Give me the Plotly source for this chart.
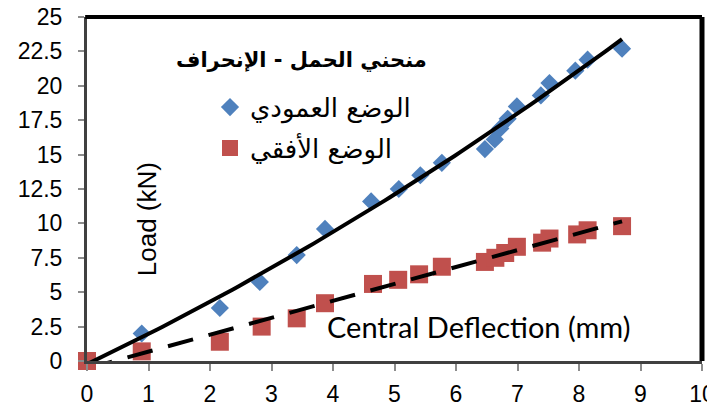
import numpy as np
import plotly.graph_objects as go

# Vertical position (blue diamonds)
vert_x = [0, 0.89, 2.16, 2.81, 3.41, 3.87, 4.62, 5.07, 5.42, 5.77, 6.47, 6.63, 6.72, 6.84, 6.99, 7.38, 7.52, 7.94, 8.14, 8.7]
vert_y = [0, 2.0, 3.85, 5.75, 7.7, 9.6, 11.6, 12.5, 13.5, 14.4, 15.4, 16.1, 16.9, 17.6, 18.5, 19.3, 20.2, 21.1, 21.9, 22.7]

# Horizontal position (red squares)
hor_x = [0, 0.89, 2.16, 2.84, 3.41, 3.87, 4.65, 5.06, 5.4, 5.77, 6.47, 6.64, 6.8, 6.99, 7.4, 7.52, 7.97, 8.14, 8.7]
hor_y = [0, 0.7, 1.4, 2.5, 3.1, 4.2, 5.6, 5.9, 6.3, 6.85, 7.2, 7.5, 7.85, 8.3, 8.6, 8.9, 9.2, 9.5, 9.8]

name_vert = "الوضع العمودي"
name_hor = "الوضع الأفقي"
title_text = "منحني الحمل - الإنحراف"
x_title = "Central Deflection (mm)"
y_title = "Load (kN)"
x_ticks = list(range(0, 11))
y_ticks = [0, 2.5, 5, 7.5, 10, 12.5, 15, 17.5, 20, 22.5, 25]

# Excel-style trendlines fitted to the data
pv = np.polyfit(vert_x, vert_y, 2)
tx_v = np.linspace(min(vert_x), max(vert_x), 100)
ty_v = np.polyval(pv, tx_v)
ph = np.polyfit(hor_x, hor_y, 1)
tx_h = np.linspace(min(hor_x), max(hor_x), 100)
ty_h = np.polyval(ph, tx_h)

fig = go.Figure()
fig.add_trace(go.Scatter(x=vert_x, y=vert_y, mode="markers", name=name_vert,
                         marker=dict(symbol="diamond", size=14, color="#4F81BD"),
                         legend="legend", cliponaxis=False))
fig.add_trace(go.Scatter(x=hor_x, y=hor_y, mode="markers", name=name_hor,
                         marker=dict(symbol="square", size=18, color="#C0504D"),
                         legend="legend2", cliponaxis=False))
fig.add_trace(go.Scatter(x=tx_v, y=ty_v, mode="lines", showlegend=False,
                         line=dict(color="black", width=4)))
fig.add_trace(go.Scatter(x=tx_h, y=ty_h, mode="lines", showlegend=False,
                         line=dict(color="black", width=4, dash="26px,16px")))

axis_font = dict(family="Liberation Sans, Arial", size=23, color="black")
leg_font = dict(family="DejaVu Sans, Liberation Sans", size=26, color="black")
fig.update_layout(
    width=715, height=416,
    margin=dict(l=79, r=21, t=9, b=63),
    paper_bgcolor="white", plot_bgcolor="white",
    xaxis=dict(range=[0, 10], tickvals=x_ticks, showgrid=False, zeroline=False,
               showline=True, linecolor="#404040", linewidth=3,
               ticks="outside", ticklen=7, tickcolor="#8c8c8c", tickwidth=2,
               tickfont=axis_font, ticklabelstandoff=3, automargin=False,
               ticklabeloverflow="allow"),
    yaxis=dict(range=[0, 25], tickvals=y_ticks, showgrid=False, zeroline=False,
               showline=True, linecolor="#404040", linewidth=3,
               ticks="outside", ticklen=6, tickcolor="#8c8c8c", tickwidth=2,
               tickfont=axis_font, ticklabelstandoff=11, automargin=False,
               ticklabeloverflow="allow"),
    legend=dict(x=0.20, y=0.738, xanchor="left", yanchor="middle",
                font=leg_font, bgcolor="rgba(0,0,0,0)"),
    legend2=dict(x=0.20, y=0.619, xanchor="left", yanchor="middle",
                 font=leg_font, bgcolor="rgba(0,0,0,0)"),
    annotations=[
        dict(text="<b>" + title_text + "</b>", x=0.348, y=0.875, xref="paper", yref="paper",
             xanchor="center", yanchor="middle",
             showarrow=False, font=dict(family="DejaVu Sans, Liberation Sans", size=21, color="black")),
        dict(text=y_title, x=0.098, y=0.413, xref="paper", yref="paper", textangle=-90,
             xanchor="center", yanchor="middle",
             showarrow=False, font=dict(family="Liberation Sans, Arial", size=26, color="black")),
        dict(text=x_title, x=0.636, y=0.099, xref="paper", yref="paper",
             xanchor="center", yanchor="middle",
             showarrow=False, font=dict(family="Lato", size=29, color="black")),
    ],
    shapes=[
        dict(type="line", xref="paper", yref="paper", x0=-0.003, x1=1.0, y0=1.0, y1=1.0,
             line=dict(color="black", width=4)),
        dict(type="line", xref="paper", yref="paper", x0=1.0, x1=1.0, y0=0.0, y1=1.0,
             line=dict(color="black", width=5)),
    ],
)

fig.write_html("out.html")
